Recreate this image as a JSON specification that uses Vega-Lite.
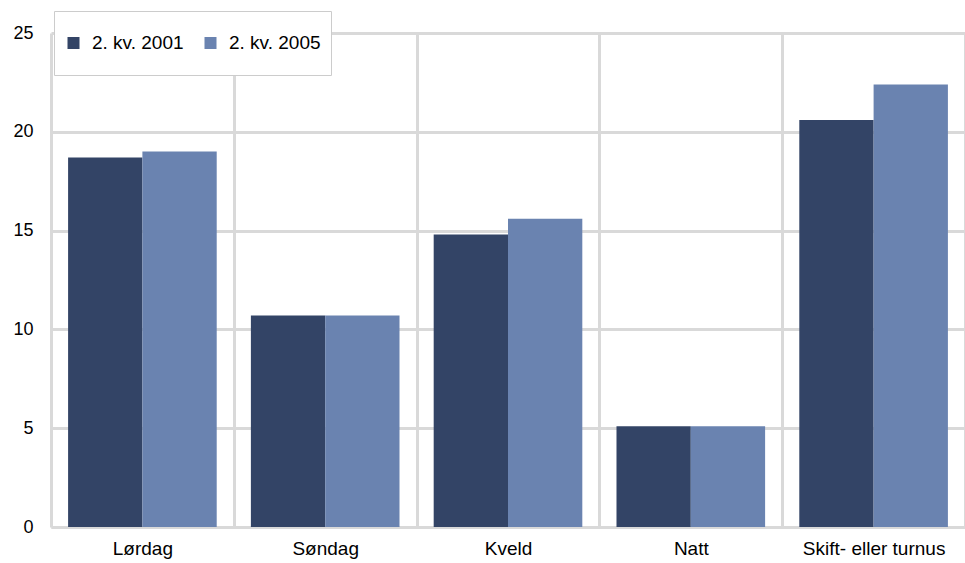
{
  "$schema": "https://vega.github.io/schema/vega-lite/v6.json",
  "width": 914,
  "height": 494,
  "autosize": {"type": "none"},
  "padding": {"left": 51, "top": 33, "right": 0, "bottom": 36},
  "background": "white",
  "config": {
    "view": {"stroke": null},
    "font": "Liberation Sans",
    "axis": {"labelFont": "Liberation Sans", "labelColor": "black", "titleFont": "Liberation Sans"},
    "legend": {"labelFont": "Liberation Sans"}
  },
  "data": {
    "values": [
      {"kategori": "Lørdag", "periode": "2. kv. 2001", "verdi": 18.7},
      {"kategori": "Lørdag", "periode": "2. kv. 2005", "verdi": 19.0},
      {"kategori": "Søndag", "periode": "2. kv. 2001", "verdi": 10.7},
      {"kategori": "Søndag", "periode": "2. kv. 2005", "verdi": 10.7},
      {"kategori": "Kveld", "periode": "2. kv. 2001", "verdi": 14.8},
      {"kategori": "Kveld", "periode": "2. kv. 2005", "verdi": 15.6},
      {"kategori": "Natt", "periode": "2. kv. 2001", "verdi": 5.1},
      {"kategori": "Natt", "periode": "2. kv. 2005", "verdi": 5.1},
      {"kategori": "Skift- eller turnus", "periode": "2. kv. 2001", "verdi": 20.6},
      {"kategori": "Skift- eller turnus", "periode": "2. kv. 2005", "verdi": 22.4}
    ]
  },
  "mark": {"type": "bar"},
  "encoding": {
    "x": {
      "field": "kategori",
      "type": "nominal",
      "sort": null,
      "scale": {"paddingInner": 0, "paddingOuter": 0},
      "axis": {
        "title": null,
        "labelAngle": 0,
        "labelFontSize": 19,
        "labelPadding": 12,
        "ticks": false,
        "tickBand": "extent",
        "grid": true,
        "gridColor": "#d9d9d9",
        "gridWidth": 3,
        "domainColor": "#d9d9d9",
        "domainWidth": 3
      }
    },
    "xOffset": {
      "field": "periode",
      "type": "nominal",
      "scale": {"paddingInner": 0, "paddingOuter": 0.23}
    },
    "y": {
      "field": "verdi",
      "type": "quantitative",
      "stack": null,
      "scale": {"domain": [0, 25], "nice": false},
      "axis": {
        "title": null,
        "values": [0, 5, 10, 15, 20, 25],
        "labelFontSize": 18,
        "labelPadding": 18,
        "ticks": false,
        "domain": false,
        "grid": true,
        "gridColor": "#d9d9d9",
        "gridWidth": 3
      }
    },
    "color": {
      "field": "periode",
      "type": "nominal",
      "scale": {"range": ["#334466", "#6a83b0"]},
      "legend": {
        "title": null,
        "orient": "none",
        "legendX": 3,
        "legendY": -22,
        "direction": "horizontal",
        "symbolType": "square",
        "symbolSize": 144,
        "symbolStrokeWidth": 0,
        "labelFontSize": 19,
        "labelOffset": 9,
        "columnPadding": 17,
        "clipHeight": 44,
        "padding": 10,
        "fillColor": "white",
        "strokeColor": "#cccccc",
        "labelColor": "black"
      }
    }
  }
}
